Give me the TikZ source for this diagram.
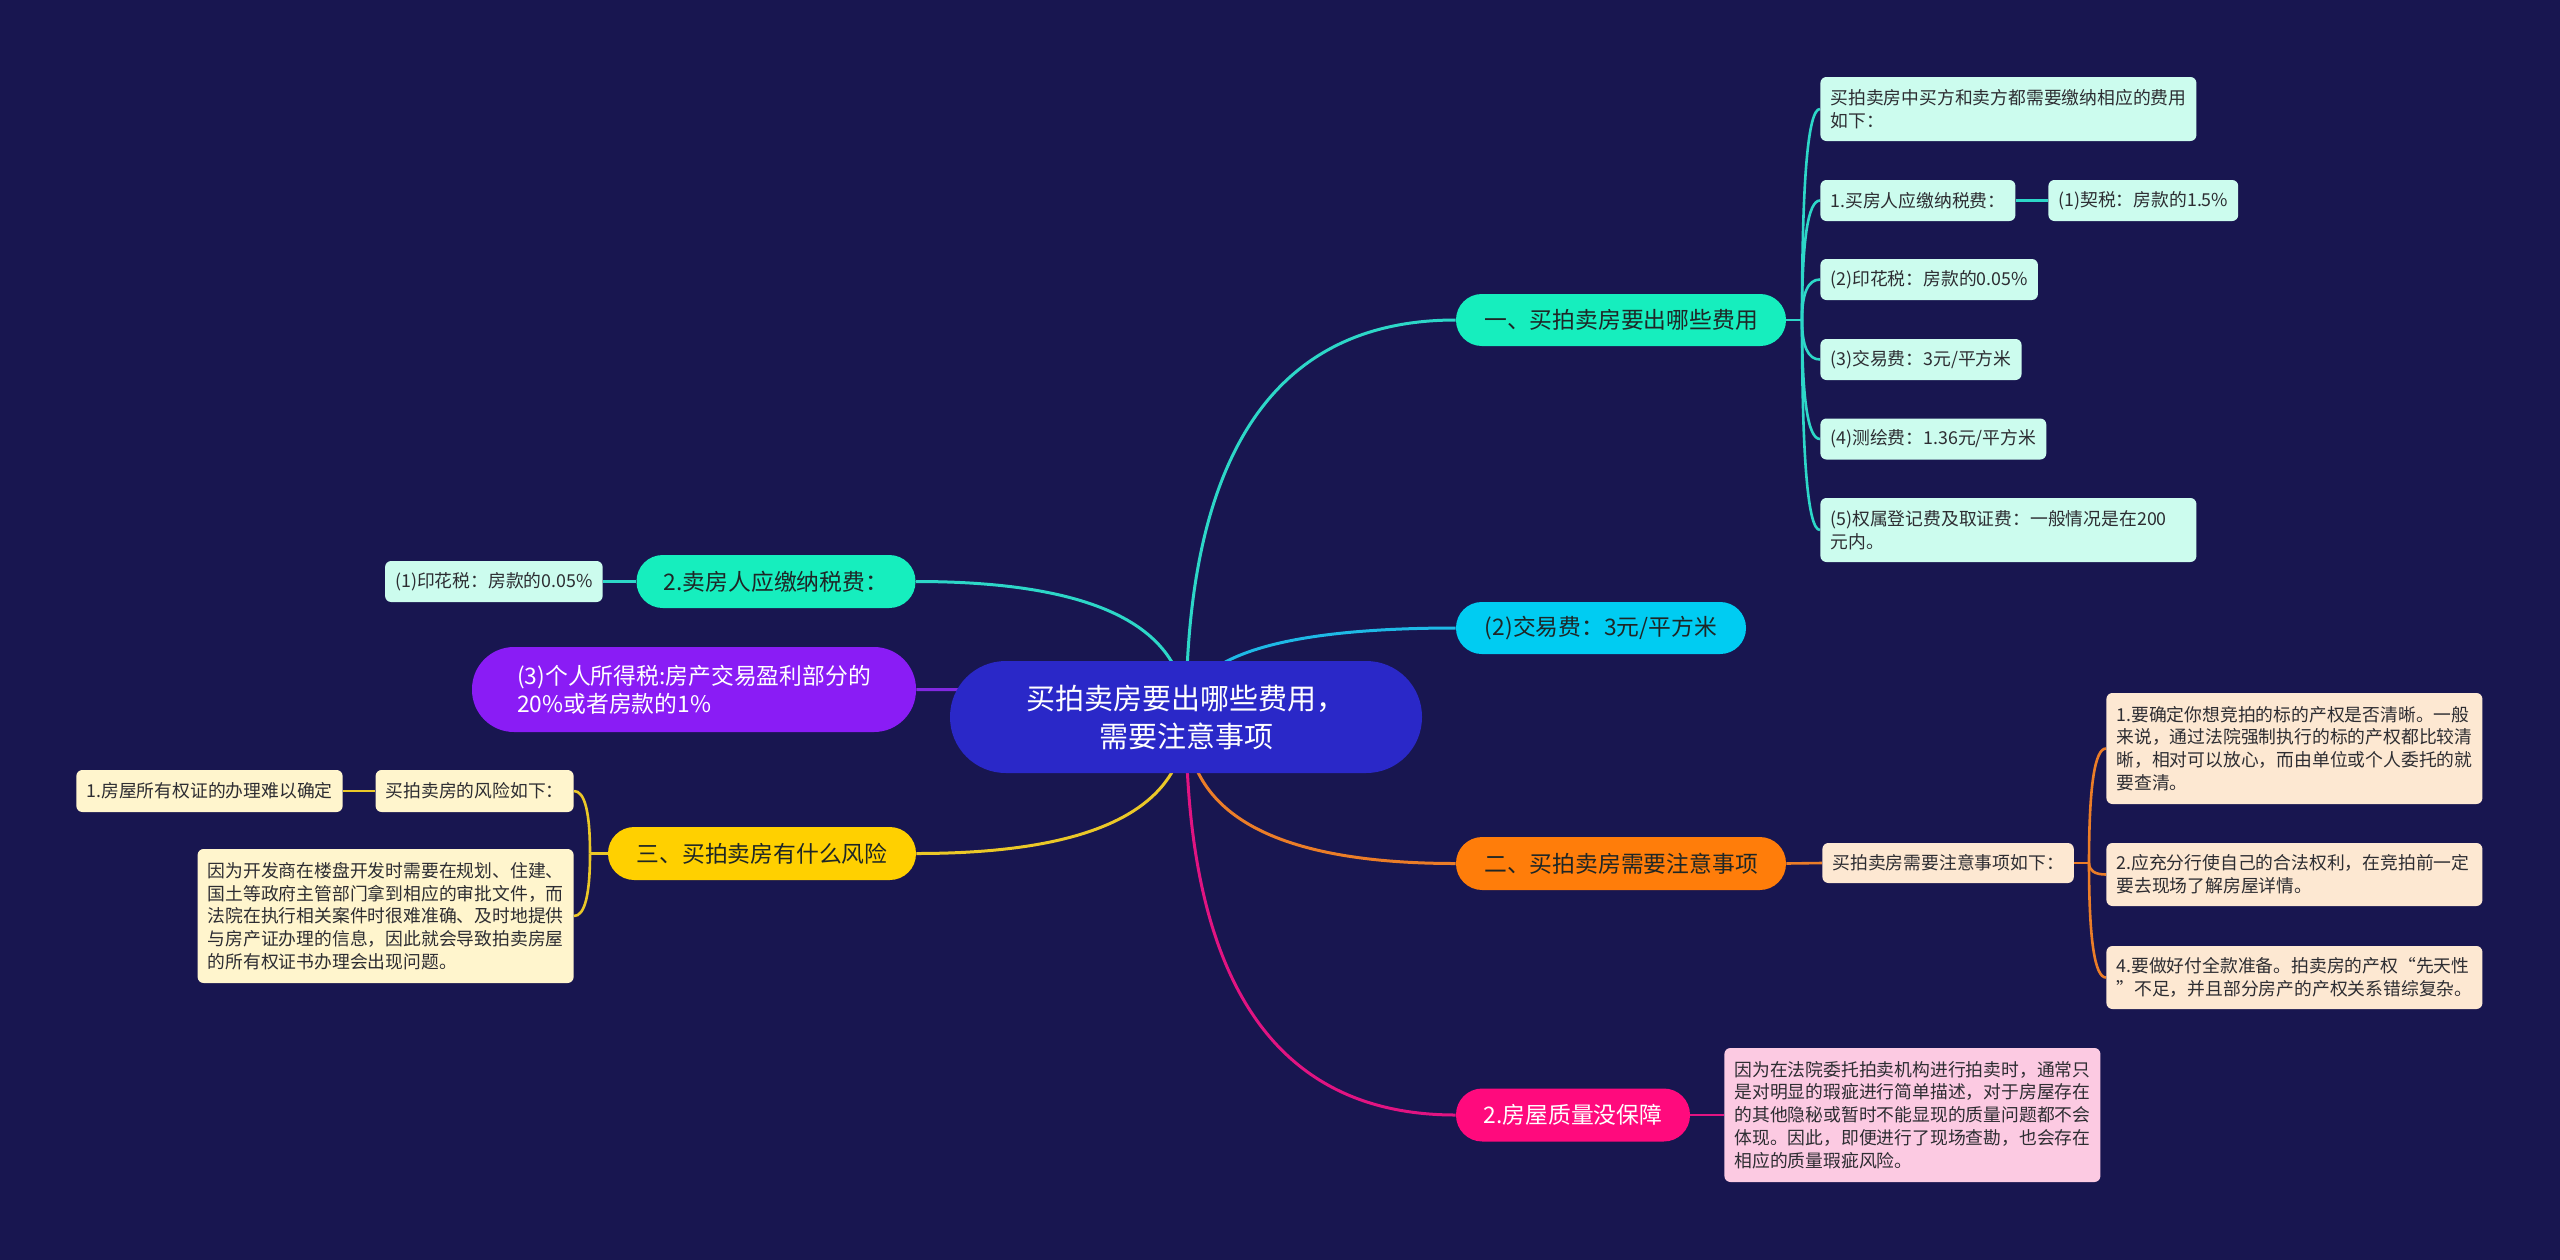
\documentclass[tikz,border=0pt]{standalone}
\usepackage{fontspec}
\setmainfont{Noto Sans CJK SC}
\usetikzlibrary{calc}
\pgfdeclarelayer{bgfill}
\pgfdeclarelayer{links}
\pgfsetlayers{bgfill,links,main}
\definecolor{bgc}{RGB}{24,22,80}
\definecolor{rootc}{RGB}{42,40,200}
\definecolor{tealp}{RGB}{22,238,190}
\definecolor{teall}{RGB}{45,215,200}
\definecolor{tealf}{RGB}{204,252,238}
\definecolor{cyanp}{RGB}{0,204,242}
\definecolor{cyanl}{RGB}{30,185,230}
\definecolor{orangep}{RGB}{255,125,10}
\definecolor{orangel}{RGB}{235,125,40}
\definecolor{orangef}{RGB}{253,232,210}
\definecolor{pinkp}{RGB}{255,10,125}
\definecolor{pinkl}{RGB}{225,20,130}
\definecolor{pinkf}{RGB}{252,202,226}
\definecolor{purplep}{RGB}{138,28,245}
\definecolor{purplel}{RGB}{130,40,225}
\definecolor{yellowp}{RGB}{255,208,0}
\definecolor{yellowl}{RGB}{235,200,40}
\definecolor{yellowf}{RGB}{255,245,205}
\definecolor{darktext}{RGB}{30,38,38}
\definecolor{leaftext}{RGB}{45,45,50}
\begin{document}
\begin{tikzpicture}[x=0.5pt,y=-0.5pt,
  pill/.style={rectangle, inner sep=0pt, align=center, text=darktext,
    font=\fontsize{11.4}{14}\selectfont},
  leaf/.style={rectangle, rounded corners=3pt, inner xsep=5pt, inner ysep=3pt,
    align=left, text=leaftext, font=\fontsize{8.9}{11.4}\selectfont},
  mainlink/.style={line width=1.5pt},
  sublink/.style={line width=1.3pt},
  quad/.style={to path={.. controls ($(\tikztostart)!0.6667!(\tikztostart|-\tikztotarget)$) and ($(\tikztotarget)!0.6667!(\tikztostart|-\tikztotarget)$) .. (\tikztotarget)}}
]
\useasboundingbox (0,0) rectangle (2560,1259);
\begin{pgfonlayer}{bgfill}
\fill[bgc] (-4,-4) rectangle (2564,1263);
\end{pgfonlayer}

% root
\node[rectangle, fill=rootc, text=white, align=center, inner sep=0pt,
  minimum width=236pt, minimum height=56pt, rounded corners=27.9pt,
  font=\fontsize{14.5}{19}\selectfont] (root) at (1186,717)
  {买拍卖房要出哪些费用，\\需要注意事项};

% main branches
\node[pill, fill=tealp, minimum width=165pt, minimum height=26pt, rounded corners=12.9pt] (p1) at (1621,320) {一、买拍卖房要出哪些费用};
\node[pill, fill=cyanp, minimum width=145pt, minimum height=26pt, rounded corners=12.9pt] (p2) at (1601,628) {(2)交易费：3元/平方米};
\node[pill, fill=orangep, minimum width=165pt, minimum height=26.5pt, rounded corners=13.1pt] (p3) at (1621,863.5) {二、买拍卖房需要注意事项};
\node[pill, fill=pinkp, text=white, minimum width=117pt, minimum height=26.5pt, rounded corners=13.1pt] (p4) at (1573,1115) {2.房屋质量没保障};
\node[pill, fill=tealp, minimum width=139.5pt, minimum height=26.5pt, rounded corners=13.1pt] (p5) at (776,581.5) {2.卖房人应缴纳税费：};
\node[pill, fill=purplep, text=white, align=left, minimum width=222pt, minimum height=42.5pt, rounded corners=21pt] (p6) at (694,689.5) {(3)个人所得税:房产交易盈利部分的\\20\%或者房款的1\%};
\node[pill, fill=yellowp, minimum width=154pt, minimum height=26.5pt, rounded corners=13.1pt] (p7) at (762,853.5) {三、买拍卖房有什么风险};

% branch 1 leaves
\node[leaf, fill=tealf, text width=178pt, minimum height=32pt, anchor=west] (L1a) at (1820,109) {买拍卖房中买方和卖方都需要缴纳相应的费用\\如下：};
\node[leaf, fill=tealf, minimum height=20.5pt, anchor=west] (L1b) at (1820,200.5) {1.买房人应缴纳税费：};
\node[leaf, fill=tealf, minimum height=20.5pt, anchor=west] (L1b1) at (2048,200.5) {(1)契税：房款的1.5\%};
\node[leaf, fill=tealf, minimum height=20.5pt, anchor=west] (L1c) at (1820,279.5) {(2)印花税：房款的0.05\%};
\node[leaf, fill=tealf, minimum height=20.5pt, anchor=west] (L1d) at (1820,359.5) {(3)交易费：3元/平方米};
\node[leaf, fill=tealf, minimum height=20.5pt, anchor=west] (L1e) at (1820,439) {(4)测绘费：1.36元/平方米};
\node[leaf, fill=tealf, text width=178pt, minimum height=32pt, anchor=west] (L1f) at (1820,530) {(5)权属登记费及取证费：一般情况是在200\\元内。};

% branch 2 leaves
\node[leaf, fill=orangef, minimum height=20pt, anchor=west] (O0) at (1822,863) {买拍卖房需要注意事项如下：};
\node[leaf, fill=orangef, text width=178pt, minimum height=55.5pt, anchor=west] (O1) at (2106,748.5) {1.要确定你想竞拍的标的产权是否清晰。一般\\来说，通过法院强制执行的标的产权都比较清\\晰，相对可以放心，而由单位或个人委托的就\\要查清。};
\node[leaf, fill=orangef, text width=178pt, minimum height=31.5pt, anchor=west] (O2) at (2106,874.5) {2.应充分行使自己的合法权利，在竞拍前一定\\要去现场了解房屋详情。};
\node[leaf, fill=orangef, text width=178pt, minimum height=31.5pt, anchor=west] (O3) at (2106,977.5) {4.要做好付全款准备。拍卖房的产权“先天性\\”不足，并且部分房产的产权关系错综复杂。};

% pink leaf
\node[leaf, fill=pinkf, text width=178pt, minimum height=67pt, anchor=west] (P1) at (1724,1115) {因为在法院委托拍卖机构进行拍卖时，通常只\\是对明显的瑕疵进行简单描述，对于房屋存在\\的其他隐秘或暂时不能显现的质量问题都不会\\体现。因此，即便进行了现场查勘，也会存在\\相应的质量瑕疵风险。};

% left leaves
\node[leaf, fill=tealf, minimum height=20.5pt, anchor=east] (T1) at (603,581.5) {(1)印花税：房款的0.05\%};
\node[leaf, fill=yellowf, minimum height=21pt, anchor=east] (Y0) at (574,791) {买拍卖房的风险如下：};
\node[leaf, fill=yellowf, minimum height=21pt, anchor=east] (Y1) at (343,791) {1.房屋所有权证的办理难以确定};
\node[leaf, fill=yellowf, text width=178pt, minimum height=67pt, anchor=east] (Y2) at (574,916) {因为开发商在楼盘开发时需要在规划、住建、\\国土等政府主管部门拿到相应的审批文件，而\\法院在执行相关案件时很难准确、及时地提供\\与房产证办理的信息，因此就会导致拍卖房屋\\的所有权证书办理会出现问题。};

% junctions
\coordinate (j1) at (1802,320);
\coordinate (j2) at (2089,863);
\coordinate (j3) at (590,853.5);

\begin{pgfonlayer}{links}
\draw[teall, mainlink] (root.center) to[quad] (p1.west);
\draw[cyanl, mainlink] (root.center) to[quad] (p2.west);
\draw[orangel, mainlink] (root.center) to[quad] (p3.west);
\draw[pinkl, mainlink] (root.center) to[quad] (p4.west);
\draw[teall, mainlink] (root.center) to[quad] (p5.east);
\draw[purplel, mainlink] (root.center) to[quad] (p6.east);
\draw[yellowl, mainlink] (root.center) to[quad] (p7.east);

\draw[teall, sublink] (p1.east) -- (j1);
\foreach \n in {L1a,L1b,L1c,L1d,L1e,L1f}
  \draw[teall, sublink] (j1) to[quad] (\n.west);
\draw[teall, sublink] (L1b.east) -- (L1b1.west);

\draw[orangel, sublink] (p3.east) -- (O0.west);
\draw[orangel, sublink] (O0.east) -- (j2);
\foreach \n in {O1,O2,O3}
  \draw[orangel, sublink] (j2) to[quad] (\n.west);

\draw[pinkl, sublink] (p4.east) -- (P1.west);
\draw[teall, sublink] (p5.west) -- (T1.east);

\draw[yellowl, sublink] (p7.west) -- (j3);
\draw[yellowl, sublink] (j3) to[quad] (Y0.east);
\draw[yellowl, sublink] (j3) to[quad] (Y2.east);
\draw[yellowl, sublink] (Y0.west) -- (Y1.east);
\end{pgfonlayer}
\end{tikzpicture}
\end{document}
